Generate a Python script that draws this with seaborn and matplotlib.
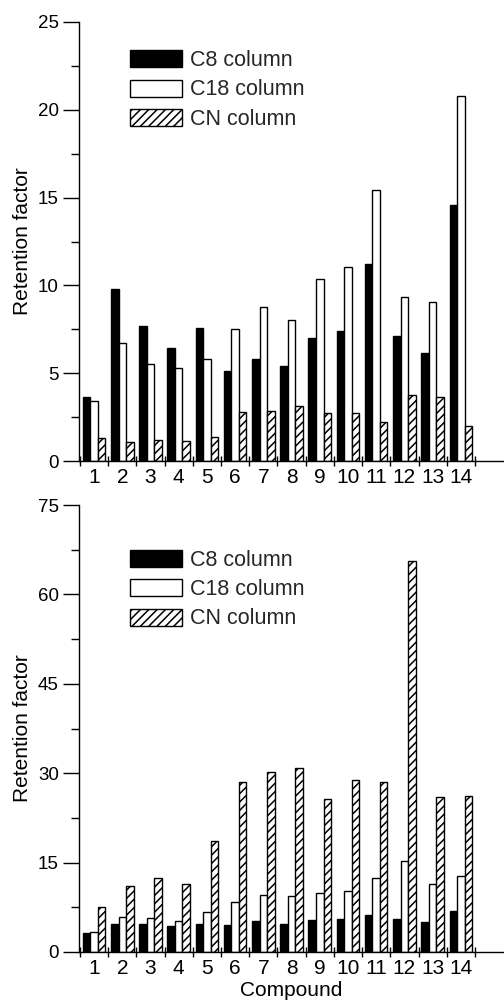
import matplotlib
matplotlib.use("Agg")
import matplotlib.pyplot as plt
from matplotlib.patches import Patch
from matplotlib.ticker import MultipleLocator, FixedLocator
import numpy as np
import pandas as pd
import seaborn as sns

compounds = [str(i) for i in range(1, 15)]
series = ["C8 column", "C18 column", "CN column"]

top_c8 = [3.67, 9.81, 7.66, 6.41, 7.57, 5.11, 5.82, 5.42, 7.03, 7.38, 11.24, 7.09, 6.14, 14.56]
top_c18 = [3.40, 6.71, 5.51, 5.32, 5.82, 7.51, 8.75, 8.04, 10.34, 11.05, 15.41, 9.33, 9.05, 20.81]
top_cn = [1.29, 1.08, 1.18, 1.14, 1.39, 2.79, 2.83, 3.14, 2.76, 2.72, 2.24, 3.78, 3.67, 2.02]

bot_c8 = [3.25, 4.76, 4.64, 4.36, 4.64, 4.53, 5.20, 4.64, 5.43, 5.54, 6.16, 5.48, 5.09, 6.94]
bot_c18 = [3.36, 5.93, 5.65, 5.15, 6.77, 8.45, 9.57, 9.40, 9.96, 10.24, 12.48, 15.22, 11.47, 12.76]
bot_cn = [7.50, 11.08, 12.37, 11.47, 18.69, 28.48, 30.22, 30.95, 25.63, 28.82, 28.48, 65.60, 25.97, 26.25]

sns.set_theme(style="ticks")
plt.rcParams["font.family"] = ["Liberation Sans", "DejaVu Sans"]
plt.rcParams["hatch.linewidth"] = 1.1

W, H = 504, 1001
fig = plt.figure(figsize=(W / 100, H / 100), dpi=100)


def make_df(c8, c18, cn):
    rows = []
    for name, vals in zip(series, [c8, c18, cn]):
        for c, v in zip(compounds, vals):
            rows.append({"Compound": c, "Column": name, "Retention factor": v})
    return pd.DataFrame(rows)


def panel(rect, c8, c18, cn, ymax, major, legend_y, xlabel):
    ax = fig.add_axes(rect)
    df = make_df(c8, c18, cn)
    sns.barplot(data=df, x="Compound", y="Retention factor", hue="Column",
                order=compounds, hue_order=series,
                palette={"C8 column": "black", "C18 column": "white", "CN column": "white"},
                edgecolor="black", linewidth=1.0, width=0.8, saturation=1,
                errorbar=None, legend=False, ax=ax)
    for p in ax.containers[2]:
        p.set_hatch("////")
    ax.set_xlim(-0.535, 14.53)
    ax.set_ylim(0, ymax)
    ax.yaxis.set_major_locator(MultipleLocator(major))
    ax.yaxis.set_minor_locator(MultipleLocator(major / 2))
    ax.xaxis.set_minor_locator(FixedLocator(np.arange(-0.5, 14.0, 1.0)))
    ax.tick_params(axis="y", which="major", direction="out", length=11.5, width=1.0,
                   labelsize=13.5, pad=3, color="black", labelcolor="black")
    ax.tick_params(axis="y", which="minor", direction="out", length=5.8, width=1.0, color="black")
    ax.tick_params(axis="x", which="major", length=0, labelsize=15, pad=5, labelcolor="black")
    ax.tick_params(axis="x", which="minor", direction="inout", length=6.5, width=1.0, color="black")
    for s in ["top", "right"]:
        ax.spines[s].set_visible(False)
    for s in ["left", "bottom"]:
        ax.spines[s].set_linewidth(1.0)
        ax.spines[s].set_color("black")
    ax.set_ylabel("Retention factor", fontsize=15, labelpad=4, color="black")
    if xlabel:
        ax.set_xlabel("Compound", fontsize=15, labelpad=2, color="black")
    else:
        ax.set_xlabel("")
    handles = [Patch(facecolor="black", edgecolor="black", linewidth=1.0),
               Patch(facecolor="white", edgecolor="black", linewidth=1.0),
               Patch(facecolor="white", edgecolor="black", linewidth=1.0, hatch="////")]
    ax.legend(handles, series, loc="upper left", bbox_to_anchor=(0.12, legend_y),
              frameon=False, fontsize=15.5, handlelength=2.42, handleheight=0.84,
              handletextpad=0.37, labelspacing=0.39, borderpad=0, borderaxespad=0)
    return ax


top_rect = [79 / W, 1 - 461 / H, (W - 79) / W, (461 - 22) / H]
bot_rect = [79 / W, 1 - 952 / H, (W - 79) / W, (952 - 505) / H]

panel(top_rect, top_c8, top_c18, top_cn, 25, 5, 0.936, False)
panel(bot_rect, bot_c8, bot_c18, bot_cn, 75, 15, 0.90, True)

fig.savefig("out.png", dpi=100)
